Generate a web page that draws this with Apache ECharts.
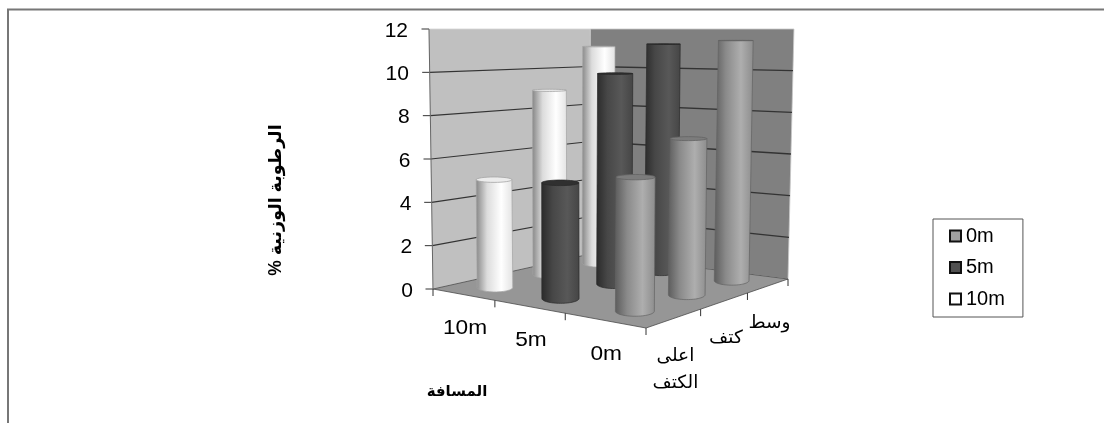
<!DOCTYPE html>
<html>
<head>
<meta charset="utf-8">
<script src="https://cdn.jsdelivr.net/npm/echarts@6/dist/echarts.min.js"></script>
<style>html,body{margin:0;padding:0;background:#fff}#c{width:1104px;height:423px}</style>
</head>
<body>
<div id="c"></div>
<script>
// Moisture readings per distance and sampling position
const categories = ['اعلى\nالكتف', 'كتف', 'وسط'];
const seriesNames = ['0m', '5m', '10m'];
const values0m = [5.7, 7.05, 11.45];
const values5m = [5.15, 9.9, 11.25];
const values10m = [5.0, 9.0, 11.1];
const yTicks = [0, 2, 4, 6, 8, 10, 12];
const yTitle = 'الرطوبة الوزنية %\u200F';
const depthTitle = 'المسافة';

const FONT = '"Liberation Sans","DejaVu Sans",sans-serif';

// Floor corners in pixels: left, front, right, back
const floor = [[433, 289], [646, 328], [788, 279], [590, 254]];
const vanishX = 575, lean = 0.028;
const rxPerDepth = 0.069, ryPerDepth = 0.018, barShiftX = 1.6;

// Perspective map from the unit floor square onto the floor quadrilateral
const floorMap = (function () {
  const [p0, p1, p2, p3] = floor;
  const dx1 = p1[0] - p2[0], dx2 = p3[0] - p2[0], sx = p0[0] - p1[0] + p2[0] - p3[0];
  const dy1 = p1[1] - p2[1], dy2 = p3[1] - p2[1], sy = p0[1] - p1[1] + p2[1] - p3[1];
  const det = dx1 * dy2 - dx2 * dy1;
  const g = (sx * dy2 - dx2 * sy) / det, h = (dx1 * sy - sx * dy1) / det;
  const a = p1[0] - p0[0] + g * p1[0], b = p3[0] - p0[0] + h * p3[0], c = p0[0];
  const d = p1[1] - p0[1] + g * p1[1], e = p3[1] - p0[1] + h * p3[1], f = p0[1];
  return (u, v) => {
    const w = g * u + h * v + 1;
    return [(a * u + b * v + c) / w, (d * u + e * v + f) / w];
  };
})();

// Raises a floor point to a value using the value axis of the grid
function lift(base, value, api) {
  const y0 = api.coord([0, 0])[1], yTop = api.coord([0, 12])[1];
  const t = (y0 - api.coord([0, value])[1]) / (y0 - yTop);
  return [base[0] + (base[0] - vanishX) * lean * t, base[1] + (yTop - base[1]) * t];
}

function ellipsePoints(c, rx, ry, from, to) {
  const pts = [];
  for (let i = 0; i <= 32; i++) {
    const a = from + (to - from) * i / 32;
    pts.push([c[0] + rx * Math.cos(a), c[1] + ry * Math.sin(a)]);
  }
  return pts;
}

const shades = {
  '0m': { stops: ['#5c5c5c', '#8a8a8a', '#aeaeae', '#8c8c8c'], top: '#7c7c7c', edge: '#636363' },
  '5m': { stops: ['#2a2a2a', '#474747', '#585858', '#454545'], top: '#303030', edge: '#2a2a2a' },
  '10m': { stops: ['#858585', '#dcdcdc', '#ffffff', '#e2e2e2'], top: '#ececec', edge: '#a4a4a4' }
};

function cylinderRenderer(name) {
  const u = (seriesNames.length - 1 - seriesNames.indexOf(name) + 0.5) / seriesNames.length;
  const shade = shades[name];
  return function (params, api) {
    const v = (api.value(0) + 0.5) / categories.length;
    const foot = floorMap(u, v);
    const base = [foot[0] + barShiftX, foot[1]];
    const yTop = api.coord([0, 12])[1];
    const top = lift(base, api.value(1), api);
    const rx = rxPerDepth * (base[1] - yTop);
    const ryB = ryPerDepth * (base[1] - yTop);
    const ryT = ryPerDepth * (top[1] - yTop);
    const bodyPts = [[top[0] - rx, top[1]]]
      .concat([[top[0] + rx, top[1]]])
      .concat(ellipsePoints(base, rx, ryB, 0, Math.PI));
    const fill = new echarts.graphic.LinearGradient(0, 0, 1, 0, [
      { offset: 0, color: shade.stops[0] },
      { offset: 0.3, color: shade.stops[1] },
      { offset: 0.68, color: shade.stops[2] },
      { offset: 1, color: shade.stops[3] }
    ]);
    return {
      type: 'group',
      children: [
        { type: 'polygon', shape: { points: bodyPts }, style: { fill, stroke: shade.edge, lineWidth: 0.7 } },
        { type: 'polygon', shape: { points: ellipsePoints(top, rx, ryT, 0, Math.PI * 2) },
          style: { fill: shade.top, stroke: shade.edge, lineWidth: 0.8 } }
      ]
    };
  };
}

// Walls, floor, gridlines, slanted axis, ticks and the two floor-edge axes
function frameRenderer(params, api) {
  const [L, F, R, B] = floor;
  const up = p => lift(p, 12, api);
  const kids = [];
  const poly = (pts, fill, stroke, w) => kids.push({ type: 'polygon', shape: { points: pts }, style: { fill, stroke, lineWidth: w || 0.8 } });
  const line = (a, b, stroke, w) => kids.push({ type: 'line', shape: { x1: a[0], y1: a[1], x2: b[0], y2: b[1] }, style: { stroke, lineWidth: w || 1 } });
  const text = (str, x, y, align, vAlign, size, weight, sx) => kids.push({
    type: 'text', x, y, scaleX: sx || 1,
    style: { text: str, align, verticalAlign: vAlign, fontSize: size, fontWeight: weight || 'normal', fontFamily: FONT, fill: '#000', lineHeight: 27 }
  });

  poly([L, up(L), up(B), B], '#c0c0c0', '#d4d4d4');
  poly([B, up(B), up(R), R], '#808080', '#c8c8c8');
  poly([L, F, R, B], '#969696', '#4a4a4a');

  yTicks.forEach(t => {
    const a = lift(L, t, api), b = lift(B, t, api), c = lift(R, t, api);
    if (t > 0 && t < 12) {
      line(a, b, '#333333', 1.2);
      line(b, c, '#333333', 1.3);
    }
    line([a[0] - 7.5, a[1]], a, '#333', 1);
  });
  line(up(L), L, '#666', 1);

  const edgeTick = (p) => line(p, [p[0], p[1] + 7], '#333', 1);
  [0, 1, 2, 3].forEach(i => edgeTick(floorMap(i / 3, 0)));
  [1, 2, 3].forEach(i => edgeTick(floorMap(1, i / 3)));

  seriesNames.forEach((n, i) => {
    const p = floorMap((seriesNames.length - 1 - i + 0.5) / seriesNames.length, 0);
    text(n, p[0] + 2, p[1] + 33.5, 'center', 'middle', 21, 'normal', 1.08);
  });
  categories.forEach((c, i) => {
    const p = floorMap(1, (i + 0.5) / categories.length);
    text(c, p[0] + 1, p[1] + 24, 'center', 'top', 18, 'normal', 1.03);
  });
  text(depthTitle, 457, 392, 'center', 'middle', 15, 'bold', 1);
  return { type: 'group', children: kids };
}

const rich = {};
yTicks.forEach(t => {
  rich['t' + t] = { fontSize: 21, fontFamily: FONT, color: '#000', padding: [4, 5 * t / 12, 0, 0], align: 'right' };
});

const toData = arr => arr.map((v, i) => [i, v]);
const cylinderSeries = (name, arr, z) => ({
  name, type: 'custom', coordinateSystem: 'cartesian2d', z,
  clip: false, silent: true,
  encode: { x: 0, y: 1 },
  renderItem: cylinderRenderer(name),
  data: toData(arr),
  itemStyle: { color: shades[name].stops[2] }
});

const chart = echarts.init(document.getElementById('c'), null, { renderer: 'canvas' });
chart.setOption({
  animation: false,
  backgroundColor: '#fff',
  textStyle: { fontFamily: FONT },
  grid: { left: 433, top: 29, width: 355, height: 260, containLabel: false },
  xAxis: { type: 'category', data: categories, show: false },
  yAxis: {
    type: 'value', min: 0, max: 12, interval: 2,
    name: yTitle, nameLocation: 'middle', nameRotate: 90, nameGap: 148,
    nameTextStyle: { fontSize: 17.5, fontWeight: 'bold', color: '#000', fontFamily: FONT, padding: [0, 82, 0, 0] },
    axisLine: { show: false }, axisTick: { show: false }, splitLine: { show: false },
    axisLabel: { margin: 20, formatter: v => '{t' + v + '|' + v + '}', rich }
  },
  legend: {
    orient: 'vertical', left: 933, top: 219,
    padding: [7, 18, 8, 16], itemWidth: 11, itemHeight: 11, itemGap: 11.5,
    borderColor: '#555', borderWidth: 1, backgroundColor: '#fff',
    icon: 'rect', selectedMode: false,
    textStyle: { fontSize: 20, fontFamily: FONT, color: '#000' },
    data: [
      { name: '0m', itemStyle: { color: '#a0a0a0', borderColor: '#111', borderWidth: 2 } },
      { name: '5m', itemStyle: { color: '#505050', borderColor: '#111', borderWidth: 2 } },
      { name: '10m', itemStyle: { color: '#ffffff', borderColor: '#111', borderWidth: 2 } }
    ]
  },
  graphic: [{
    type: 'polyline', silent: true,
    shape: { points: [[8, 423], [8, 9.5], [1104, 9.5]] },
    style: { fill: null, stroke: '#777777', lineWidth: 2 }
  }],
  series: [
    { name: 'frame', type: 'custom', coordinateSystem: 'cartesian2d', z: 1, clip: false, silent: true,
      encode: { x: 0, y: 1 }, renderItem: frameRenderer, data: [[0, 0]] },
    cylinderSeries('10m', values10m, 2),
    cylinderSeries('5m', values5m, 3),
    cylinderSeries('0m', values0m, 4)
  ]
});
</script>
</body>
</html>
